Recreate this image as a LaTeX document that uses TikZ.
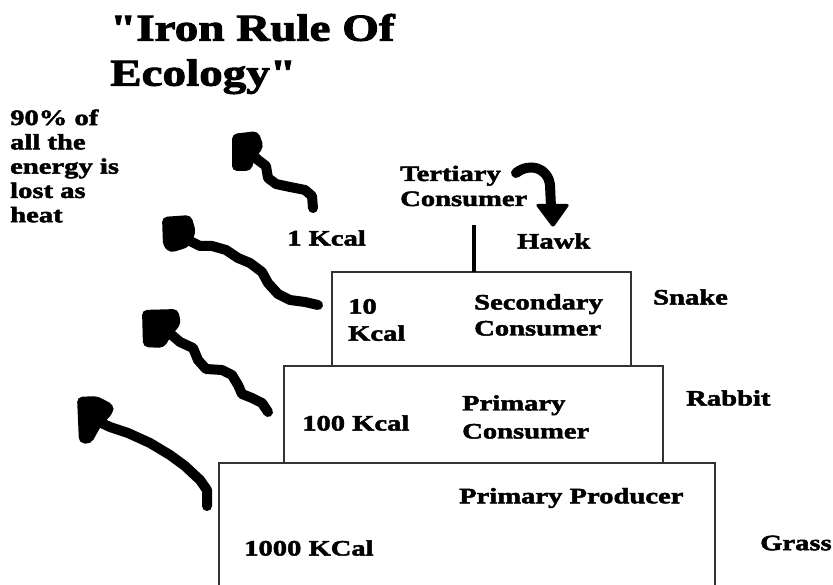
\documentclass[tikz,border=0pt]{standalone}
\usepackage{fontspec}
\newfontfamily\lab{Liberation Serif}[FakeStretch=1.3,FakeBold=2.2]
\newfontfamily\ttl{Liberation Serif}[FakeStretch=1.24,FakeBold=2.5]
\begin{document}
\begin{tikzpicture}[x=1pt,y=-1pt,
  txt/.style={inner sep=0pt,anchor=west,align=left,font=\lab\bfseries\fontsize{22}{25}\selectfont},
  level/.style={draw=black!80,line width=1.2pt,fill=white},
  squig/.style={line width=10pt,line cap=round,line join=round,black},
  blob/.style={fill=black,rounded corners=5pt}]
\useasboundingbox (0,0) rectangle (833,585);
% boxes
\draw[level] (219,463) rectangle (715,590);
\draw[level] (284,366) rectangle (663,463);
\draw[level] (332,272) rectangle (631,366);
\coordinate (vtop) at (474,225);
\coordinate (vbot) at (474,272);
\draw[line width=4pt] (vtop) -- (vbot);
% title and texts
\node[txt,font=\ttl\bfseries\fontsize{38}{45}\selectfont] (title) at (110,54) {"Iron Rule Of\\Ecology"};
\node[txt,font=\lab\bfseries\fontsize{22}{24.3}\selectfont] (lost) at (10,166) {90\% of\\all the\\energy is\\lost as\\heat};
\node[txt] (k1) at (287,238) {1 Kcal};
\node[txt] (tert) at (400,186) {Tertiary\\Consumer};
\node[txt] (hawk) at (517,241) {Hawk};
\node[txt,font=\lab\bfseries\fontsize{22}{27}\selectfont] (k10) at (348,320) {10\\Kcal};
\node[txt,font=\lab\bfseries\fontsize{22}{26}\selectfont] (sec) at (474,315) {Secondary\\Consumer};
\node[txt] (snake) at (653,297) {Snake};
\node[txt] (k100) at (302,423) {100 Kcal};
\node[txt,font=\lab\bfseries\fontsize{22}{28}\selectfont] (pc) at (462,417) {Primary\\Consumer};
\node[txt] (rabbit) at (686,398) {Rabbit};
\node[txt] (pp) at (459,498) {Primary Producer};
\node[txt] (k1000) at (244,548) {1000 KCal};
\node[txt] (grass) at (760,543) {Grass};
% squiggly heat arrows
\coordinate (a1s) at (313,208);
\coordinate (a1e) at (250,152);
\draw[squig] (a1s) -- (312,196) -- (305,190) -- (290,187) -- (276,184) -- (268,178) -- (266,166) -- (258,160) -- (a1e);
\fill[blob] (232,134) -- (258,131) -- (264,147) -- (255,158) -- (251,171) -- (232,171) -- cycle;
\coordinate (a2s) at (318,305);
\coordinate (a2e) at (180,236);
\draw[squig] (a2s) -- (305,302) -- (290,300) -- (278,294) -- (268,283) -- (262,272) -- (250,263) -- (238,258) -- (226,250) -- (212,246) -- (200,246) -- (a2e);
\fill[blob] (162,217) -- (191,215) -- (196,232) -- (189,247) -- (170,253) -- (163,246) -- cycle;
\coordinate (a3s) at (268,412);
\coordinate (a3e) at (160,325);
\draw[squig] (a3s) -- (262,403) -- (252,398) -- (242,394) -- (238,385) -- (232,375) -- (222,370) -- (206,369) -- (198,360) -- (193,348) -- (180,342) -- (a3e);
\fill[blob] (142,310) -- (178,309) -- (181,324) -- (171,336) -- (164,348) -- (143,347) -- cycle;
\coordinate (a4s) at (207,506);
\coordinate (a4e) at (95,420);
\draw[squig] (a4s) -- (207,490) -- (200,480) -- (185,466) -- (170,455) -- (150,443) -- (128,433) -- (110,427) -- (a4e);
\fill[blob] (77,397) -- (97,396) -- (114,405) -- (113,413) -- (101,426) -- (91,444) -- (79,443) -- cycle;
% hawk arrow
\coordinate (hs) at (516,173);
\coordinate (he) at (553,228);
\draw[squig] (hs) .. controls (530,162) and (548,168) .. (550,185) -- (551,207);
\fill[black,rounded corners=3pt] (535,204) -- (570,204) -- (he) -- cycle;
\end{tikzpicture}
\end{document}
